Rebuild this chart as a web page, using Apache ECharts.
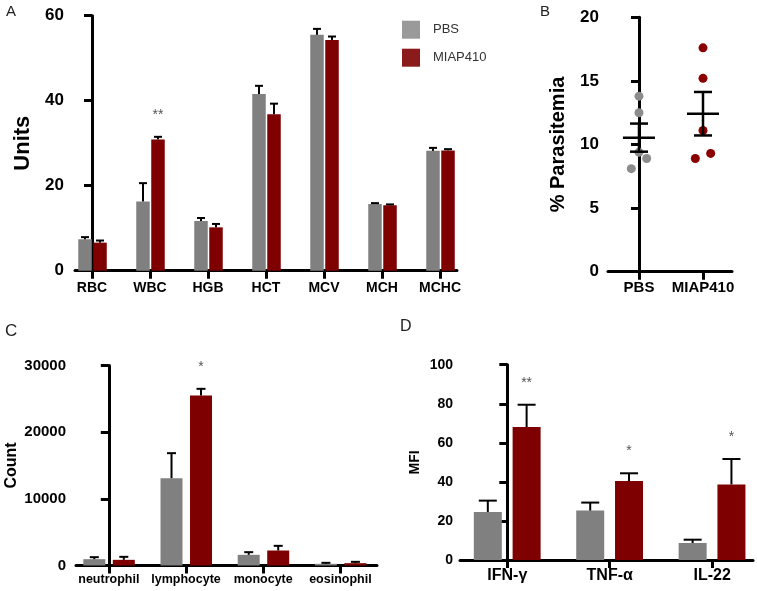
<!DOCTYPE html>
<html>
<head>
<meta charset="utf-8">
<script src="https://cdn.jsdelivr.net/npm/echarts@6/dist/echarts.min.js"></script>
<style>html,body{margin:0;padding:0;background:#fff}#c{width:757px;height:591px}</style>
</head>
<body>
<div id="c"></div>
<script>
// ---------- Panel A: hematology ----------
const catsA = ['RBC', 'WBC', 'HGB', 'HCT', 'MCV', 'MCH', 'MCHC'];
const pbsA = [7.4, 16.3, 11.7, 41.6, 55.5, 15.7, 28.2];
const pbsAErr = [7.9, 20.6, 12.4, 43.5, 56.9, 15.9, 28.9];
const miapA = [6.6, 30.9, 10.2, 36.8, 54.3, 15.4, 28.3];
const miapAErr = [7.1, 31.5, 11.0, 39.3, 55.1, 15.6, 28.6];
const sigA = ['', '**', '', '', '', '', ''];
const ticksA = [0, 20, 40, 60];

// ---------- Panel B: parasitemia ----------
const groupsB = ['PBS', 'MIAP410'];
const pbsB = [13.8, 12.5, 9.4, 8.9, 8.1];
const miapB = [17.6, 15.2, 11.1, 9.3, 8.9];
const jitterB = [0, 0, 0, 0.12, -0.12];
const ticksB = [0, 5, 10, 15, 20];

// ---------- Panel C: white cell counts ----------
const catsC = ['neutrophil', 'lymphocyte', 'monocyte', 'eosinophil'];
const pbsC = [950, 13100, 1600, 250];
const pbsCErr = [1250, 16850, 2000, 400];
const miapC = [850, 25500, 2250, 350];
const miapCErr = [1300, 26500, 2950, 550];
const sigC = ['', '*', '', ''];
const ticksC = [0, 10000, 20000, 30000];

// ---------- Panel D: cytokines ----------
const catsD = ['IFN-γ', 'TNF-α', 'IL-22'];
const pbsD = [24.6, 25.3, 8.7];
const pbsDErr = [30.4, 29.4, 10.4];
const miapD = [68.1, 40.4, 38.7];
const miapDErr = [79.5, 44.4, 51.7];
const sigD = ['**', '*', '*'];
const ticksD = [0, 20, 40, 60, 80, 100];

const FONT = '"Liberation Sans", Arial, Helvetica, sans-serif';
const GRAY = '#808080', RED = '#7f0000';

function mean(a) { return a.reduce((s, v) => s + v, 0) / a.length; }
function sem(a) {
  const m = mean(a);
  const v = a.reduce((s, x) => s + (x - m) * (x - m), 0) / (a.length - 1);
  return Math.sqrt(v) / Math.sqrt(a.length);
}

function barSeries(name, idx, vals, off, w, color) {
  return {
    type: 'custom', name, xAxisIndex: idx, yAxisIndex: idx, z: 2,
    itemStyle: { color }, encode: { x: 0, y: 1 },
    data: vals.map((v, i) => [i, v]),
    renderItem: (p, api) => {
      const x = api.value(0);
      const t = api.coord([x, api.value(1)]);
      const b = api.coord([x, 0]);
      return { type: 'rect', shape: { x: t[0] + off - w / 2, y: t[1], width: w, height: b[1] - t[1] }, style: { fill: color } };
    }
  };
}

function errSeries(idx, vals, errs, off, capW, sig, sigFont) {
  return {
    type: 'custom', name: 'err' + idx + off, xAxisIndex: idx, yAxisIndex: idx, z: 3,
    encode: { x: 0, y: [1, 2] },
    data: vals.map((v, i) => [i, v, errs[i]]),
    renderItem: (p, api) => {
      const x = api.value(0);
      const a = api.coord([x, api.value(1)]);
      const e = api.coord([x, api.value(2)]);
      const cx = a[0] + off;
      const ch = [
        { type: 'line', shape: { x1: cx, y1: a[1], x2: cx, y2: e[1] }, style: { stroke: '#000', lineWidth: 2 } },
        { type: 'line', shape: { x1: cx - capW / 2, y1: e[1], x2: cx + capW / 2, y2: e[1] }, style: { stroke: '#000', lineWidth: 2 } }
      ];
      const s = sig ? sig[p.dataIndex] : '';
      if (s) {
        ch.push({ type: 'text', x: cx, y: e[1] - 22, style: { text: s, fill: '#555', font: sigFont + 'px ' + FONT, align: 'center', verticalAlign: 'middle' } });
      }
      return { type: 'group', children: ch };
    }
  };
}

function xAxisOf(idx, cats, min, max, fontSize, margin) {
  const vals = cats.map((c, i) => i);
  return {
    type: 'value', gridIndex: idx, min, max,
    splitLine: { show: false },
    axisLine: { show: true, onZero: false, lineStyle: { color: '#000', width: 3 } },
    axisTick: { show: true, customValues: vals, length: 8, lineStyle: { color: '#000', width: 3 } },
    axisLabel: { customValues: vals, formatter: v => cats[Math.round(v)], color: '#000', fontWeight: 'bold', fontSize, fontFamily: FONT, margin }
  };
}

function yAxisOf(idx, ticks, fontSize, margin, name, nameSize, nameGap) {
  return {
    type: 'value', gridIndex: idx, min: ticks[0], max: ticks[ticks.length - 1],
    interval: ticks[1] - ticks[0],
    splitLine: { show: false },
    axisLine: { show: true, lineStyle: { color: '#000', width: 3 } },
    axisTick: { show: true, length: 8, lineStyle: { color: '#000', width: 3 } },
    axisLabel: { color: '#000', fontWeight: 'bold', fontSize, fontFamily: FONT, margin, formatter: v => String(v) },
    name, nameLocation: 'middle', nameGap,
    nameTextStyle: { color: '#000', fontWeight: 'bold', fontSize: nameSize, fontFamily: FONT }
  };
}

const pbsPts = pbsB.map((v, i) => [0 + jitterB[i], v]);
const miapPts = miapB.map((v, i) => [1 + jitterB[i], v]);
const statsB = [pbsB, miapB].map((a, i) => [i, mean(a), mean(a) - sem(a), mean(a) + sem(a)]);

const option = {
  animation: false,
  backgroundColor: '#fff',
  textStyle: { fontFamily: FONT },
  grid: [
    { left: 75, top: 15.7, width: 382, height: 255 },
    { left: 608, top: 17.3, width: 124, height: 254.4 },
    { left: 76, top: 365.5, width: 301, height: 200 },
    { left: 460, top: 364.7, width: 293, height: 195.3 }
  ],
  xAxis: [
    xAxisOf(0, catsA, -0.293, 6.293, 14, 10),
    xAxisOf(1, groupsB, -0.484, 1.453, 15, 9),
    xAxisOf(2, catsC, -0.425, 3.474, 12.5, 8),
    xAxisOf(3, catsD, -0.462, 2.399, 16, 8)
  ],
  yAxis: [
    yAxisOf(0, ticksA, 17, 11, 'Units', 22, 36),
    yAxisOf(1, ticksB, 17, 9, '% Parasitemia', 20, 40),
    yAxisOf(2, ticksC, 15, 10, 'Count', 16, 56),
    yAxisOf(3, ticksD, 14, 7, 'MFI', 14, 38)
  ],
  legend: {
    orient: 'vertical', left: 402, top: 20.7, padding: 0,
    itemWidth: 18, itemHeight: 18, itemGap: 10, icon: 'rect',
    textStyle: { fontSize: 13, color: '#333', fontFamily: FONT, padding: [0, 0, 0, 8] },
    data: [
      { name: 'PBS', itemStyle: { color: '#9a9a9a' } },
      { name: 'MIAP410', itemStyle: { color: '#8b1a1a' } }
    ]
  },
  graphic: [
    { type: 'text', left: 6, top: 4, style: { text: 'A', font: '15px ' + FONT, fill: '#222' } },
    { type: 'text', left: 540, top: 4, style: { text: 'B', font: '15px ' + FONT, fill: '#222' } },
    { type: 'text', left: 5, top: 323, style: { text: 'C', font: '17px ' + FONT, fill: '#222' } },
    { type: 'text', left: 400, top: 319, style: { text: 'D', font: '16px ' + FONT, fill: '#222' } }
  ],
  series: [
    barSeries('PBS', 0, pbsA, -7, 13.5, GRAY),
    barSeries('MIAP410', 0, miapA, 8, 13.5, RED),
    errSeries(0, pbsA, pbsAErr, -7, 8, null, 14),
    errSeries(0, miapA, miapAErr, 8, 8, sigA, 14),

    { type: 'scatter', name: 'PBS', xAxisIndex: 1, yAxisIndex: 1, data: pbsPts, symbolSize: 9, itemStyle: { color: '#8c8c8c', opacity: 1 }, z: 2 },
    { type: 'scatter', name: 'MIAP410', xAxisIndex: 1, yAxisIndex: 1, data: miapPts, symbolSize: 9, itemStyle: { color: '#8b0000', opacity: 1 }, z: 2 },
    {
      type: 'custom', name: 'meanSEM', xAxisIndex: 1, yAxisIndex: 1, z: 4,
      encode: { x: 0, y: [1, 2, 3] }, data: statsB,
      renderItem: (p, api) => {
        const x = api.value(0);
        const m = api.coord([x, api.value(1)]);
        const lo = api.coord([x, api.value(2)]);
        const hi = api.coord([x, api.value(3)]);
        const cx = m[0], st = { stroke: '#000', lineWidth: 2.5 };
        return { type: 'group', children: [
          { type: 'line', shape: { x1: cx - 16, y1: m[1], x2: cx + 16, y2: m[1] }, style: st },
          { type: 'line', shape: { x1: cx, y1: lo[1], x2: cx, y2: hi[1] }, style: st },
          { type: 'line', shape: { x1: cx - 9, y1: lo[1], x2: cx + 9, y2: lo[1] }, style: st },
          { type: 'line', shape: { x1: cx - 9, y1: hi[1], x2: cx + 9, y2: hi[1] }, style: st }
        ] };
      }
    },

    barSeries('PBS', 2, pbsC, -14.5, 22, GRAY),
    barSeries('MIAP410', 2, miapC, 15, 22, RED),
    errSeries(2, pbsC, pbsCErr, -14.5, 9, null, 14),
    errSeries(2, miapC, miapCErr, 15, 9, sigC, 14),

    barSeries('PBS', 3, pbsD, -19.5, 28, GRAY),
    barSeries('MIAP410', 3, miapD, 19.3, 28, RED),
    errSeries(3, pbsD, pbsDErr, -19.5, 18, null, 14),
    errSeries(3, miapD, miapDErr, 19.3, 18, sigD, 14)
  ]
};

const chart = echarts.init(document.getElementById('c'), null, { renderer: 'canvas' });
chart.setOption(option);
</script>
</body>
</html>
